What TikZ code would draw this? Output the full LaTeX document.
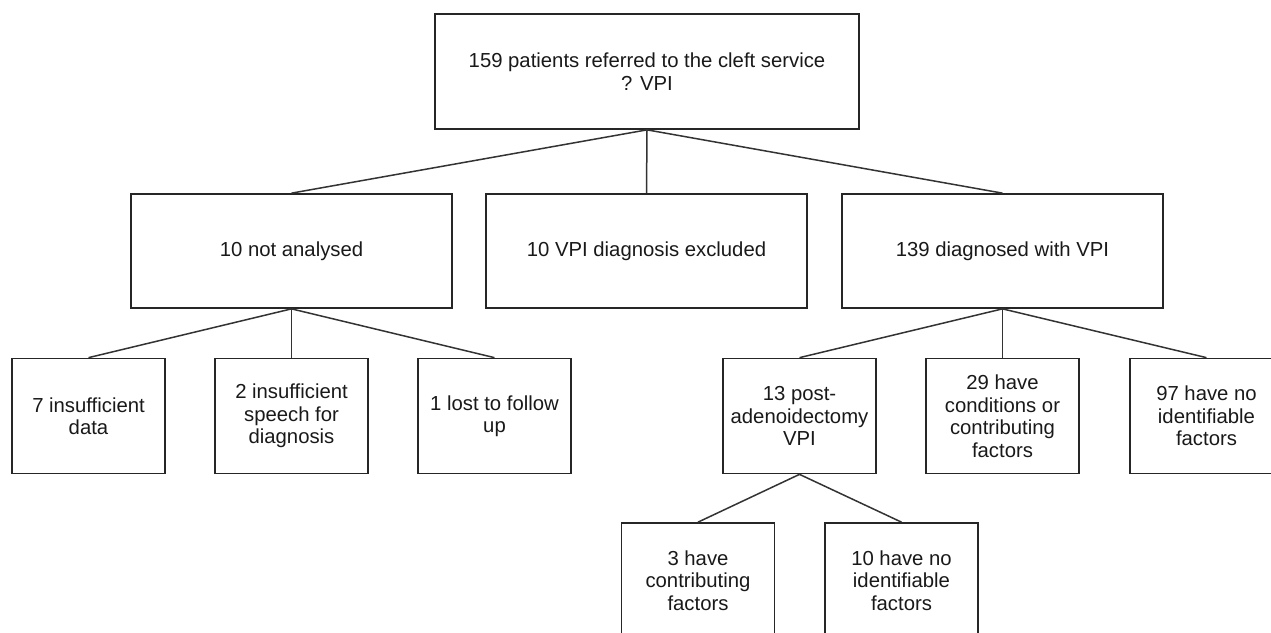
\documentclass[tikz,border=0pt]{standalone}
\usepackage{fontspec}
\setmainfont{Liberation Sans}
\begin{document}
\begin{tikzpicture}[x=1pt,y=-1pt,
  box/.style={draw=black!85, line width=1.7pt, rectangle, inner sep=0pt, align=center,
    text=black!90, font=\fontsize{20.3}{22.5}\selectfont},
  wide/.style={box, minimum width=321pt, minimum height=114pt},
  small/.style={box, minimum width=153pt, minimum height=115pt},
  link/.style={draw=black!80, line width=1.5pt}]
\useasboundingbox (0,0) rectangle (1271,632);
\clip (0,0) rectangle (1271,632);
\node[box, minimum width=424pt, minimum height=115pt] (top) at (647,71.5) {159 patients referred to the cleft service\\? VPI};
\node[wide] (na) at (291.5,251) {10 not analysed};
\node[wide] (ex) at (646.5,251) {10 VPI diagnosis excluded};
\node[wide] (dx) at (1002.5,251) {139 diagnosed with VPI};
\node[small] (a1) at (88.5,416) {7 insufficient\\data};
\node[small] (a2) at (291.5,416) {2 insufficient\\speech for\\diagnosis};
\node[small] (a3) at (494.5,416) {1 lost to follow\\up};
\node[small] (d1) at (799.5,416) {13 post-\\adenoidectomy\\VPI};
\node[small] (d2) at (1002.5,416) {29 have\\conditions or\\contributing\\factors};
\node[small] (d3) at (1206.5,416) {97 have no\\identifiable\\factors};
\node[small] (p1) at (698,580.5) {3 have\\contributing\\factors};
\node[small] (p2) at (901.5,580.5) {10 have no\\identifiable\\factors};
\draw[link] (top.south) -- (na.north);
\draw[link] (top.south) -- (ex.north);
\draw[link] (top.south) -- (dx.north);
\draw[link] (na.south) -- (a1.north);
\draw[link] (na.south) -- (a2.north);
\draw[link] (na.south) -- (a3.north);
\draw[link] (dx.south) -- (d1.north);
\draw[link] (dx.south) -- (d2.north);
\draw[link] (dx.south) -- (d3.north);
\draw[link] (d1.south) -- (p1.north);
\draw[link] (d1.south) -- (p2.north);
\end{tikzpicture}
\end{document}
